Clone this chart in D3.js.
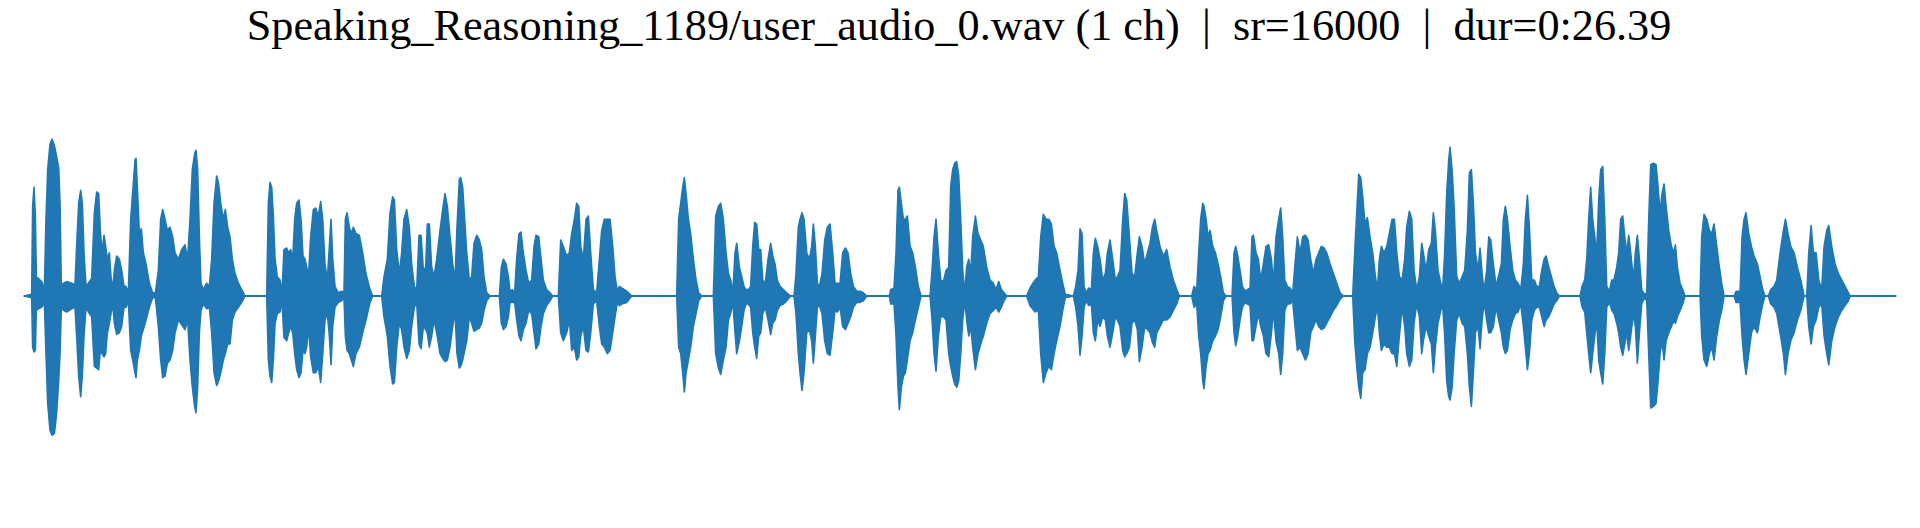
<!DOCTYPE html>
<html>
<head>
<meta charset="utf-8">
<script src="https://cdn.jsdelivr.net/npm/d3@7"></script>
<style>
  html, body { margin: 0; padding: 0; background: #ffffff; }
  svg { display: block; }
  .title { white-space: pre; }
</style>
</head>
<body>
<svg id="chart" width="1920" height="528"></svg>
<script>
// ---- data ----
const titleText = "Speaking_Reasoning_1189/user_audio_0.wav (1 ch)  |  sr=16000  |  dur=0:26.39";
const duration = 26.39; // seconds

// envelope vertices: time (s), upper peak, lower peak (normalised amplitude)
const timeSec = [
  0.000,0.108,0.122,0.141,0.160,0.174,0.202,0.249,0.287,0.310,0.334,0.367,0.395,0.428,0.461,0.489,0.508,0.526,
  0.555,0.602,0.672,0.719,0.742,0.771,0.799,0.822,0.846,0.874,0.907,0.954,
  0.992,1.024,1.053,1.076,1.100,1.128,1.151,1.175,1.203,1.226,1.250,1.274,1.306,1.344,1.377,1.410,1.438,1.471,
  1.504,1.541,1.565,1.579,1.598,1.626,1.654,1.682,1.720,1.767,1.814,1.852,
  1.894,1.927,1.955,1.988,2.021,2.058,2.096,2.129,2.176,2.223,2.270,2.307,
  2.340,2.373,2.406,2.425,2.448,2.472,2.495,2.528,2.575,2.613,2.646,
  2.679,2.716,2.744,2.773,2.810,2.838,2.871,2.904,2.937,2.975,3.022,3.069,3.116,3.421,
  3.445,3.468,3.492,3.515,3.539,3.571,3.609,3.637,3.665,3.703,3.731,3.759,3.788,
  3.816,3.844,3.877,3.905,3.933,3.961,3.985,4.013,4.041,4.079,4.112,4.149,
  4.182,4.211,4.243,4.276,4.305,4.328,4.352,4.384,4.431,4.478,4.511,
  4.530,4.554,4.586,4.615,4.643,4.680,4.727,4.774,4.821,4.878,4.915,5.042,
  5.075,5.122,5.160,5.197,5.221,5.254,5.291,5.324,5.357,5.395,5.432,5.465,5.503,5.536,
  5.569,5.597,5.630,5.663,5.686,5.714,5.747,5.780,5.818,
  5.865,5.902,5.935,5.968,6.006,6.043,6.076,
  6.104,6.137,6.156,6.184,6.212,6.241,6.278,6.311,6.344,6.382,6.419,6.452,6.485,6.523,6.570,
  6.701,6.729,6.758,6.795,6.828,6.851,6.884,6.917,
  6.945,6.978,7.006,7.039,7.077,7.115,7.157,7.190,7.218,7.256,7.289,7.321,7.368,7.415,7.453,
  7.533,7.566,7.603,7.650,7.688,7.721,7.759,7.791,7.820,7.848,7.885,7.923,7.956,7.989,8.026,8.073,
  8.111,8.144,8.181,8.224,8.261,8.299,8.332,8.365,8.393,8.426,8.496,8.567,
  9.201,9.229,9.258,9.286,9.309,9.333,9.366,9.398,9.436,9.474,9.511,9.553,
  9.718,9.751,9.789,9.821,9.859,9.897,9.930,9.962,9.991,
  10.024,10.047,10.085,10.118,10.150,10.179,10.212,10.244,
  10.273,10.301,10.329,10.357,10.385,10.414,10.451,
  10.489,10.526,10.555,10.587,10.620,10.658,10.705,10.752,10.808,10.855,
  10.883,10.916,10.940,10.968,10.996,11.034,11.071,11.104,11.128,11.156,11.184,11.212,
  11.250,11.288,11.325,11.363,11.400,11.433,11.466,11.504,
  11.541,11.579,11.617,11.654,11.692,11.739,11.786,11.833,11.880,
  12.199,12.218,12.265,12.293,12.321,12.340,12.368,12.397,12.425,12.453,12.491,12.528,12.566,12.608,12.646,
  12.773,12.801,12.829,12.857,12.890,12.923,12.961,12.998,13.036,
  13.064,13.092,13.120,13.148,13.177,13.205,13.233,13.261,
  13.289,13.318,13.346,13.374,13.412,13.449,13.487,13.524,13.571,13.618,13.665,13.703,13.741,13.778,13.816,13.853,
  14.135,14.182,14.253,14.300,14.333,14.370,14.408,14.445,14.483,14.521,14.558,14.605,14.643,14.680,
  14.793,14.826,14.859,14.887,14.915,14.944,14.972,15.010,15.047,
  15.075,15.103,15.136,15.169,15.207,15.244,15.273,15.310,15.348,15.385,15.414,15.451,
  15.489,15.517,15.545,15.583,15.620,15.658,15.695,15.724,15.761,15.799,15.837,
  15.874,15.907,15.940,15.968,16.015,16.062,16.109,16.156,16.203,16.250,16.288,
  16.461,16.494,16.532,16.560,16.588,16.617,16.635,16.664,16.692,16.720,16.758,16.795,16.833,16.870,16.908,16.945,
  17.030,17.058,17.082,17.110,17.143,17.176,17.214,17.246,17.284,
  17.312,17.331,17.368,17.401,17.434,17.472,17.509,17.547,17.585,17.613,
  17.650,17.688,17.716,17.744,17.773,17.810,17.848,17.885,
  17.918,17.951,17.989,18.026,18.064,18.102,18.139,18.177,18.214,18.252,18.289,18.327,18.365,18.412,18.459,18.506,18.553,18.600,
  18.731,18.759,18.788,18.816,18.844,18.872,18.905,18.938,18.976,19.013,19.051,19.079,
  19.107,19.135,19.173,19.211,19.248,19.286,19.319,19.352,19.389,19.427,
  19.464,19.492,19.530,19.563,19.596,19.633,
  19.671,19.704,19.727,19.765,19.803,19.840,19.868,19.896,19.934,19.972,20.000,
  20.028,20.056,20.085,20.103,20.132,20.160,20.197,20.235,20.273,20.310,
  20.348,20.376,20.404,20.432,20.461,20.498,20.526,20.555,20.583,
  20.620,20.649,20.677,20.714,20.752,20.790,
  20.827,20.855,20.883,20.912,20.949,20.987,21.024,21.062,21.100,
  21.137,21.165,21.194,21.222,21.255,21.292,21.325,21.363,21.396,21.429,21.457,21.495,21.532,21.570,21.607,21.645,
  21.936,21.964,22.002,22.030,22.058,22.086,22.114,22.143,22.171,
  22.199,22.227,22.256,22.284,22.312,22.350,
  22.383,22.415,22.453,22.481,22.509,22.538,22.566,22.594,22.622,22.650,22.688,22.716,22.744,22.773,22.805,22.843,22.876,
  22.904,22.932,22.970,23.008,23.036,23.064,23.092,23.120,23.149,23.186,23.224,23.261,23.280,23.308,23.346,23.383,23.416,
  23.628,23.651,23.684,23.722,23.759,23.792,23.825,23.863,23.900,23.933,23.966,
  24.107,24.135,24.192,24.220,24.248,24.276,24.314,24.352,24.389,24.436,24.474,24.511,24.544,
  24.591,24.624,24.671,24.709,24.756,24.803,24.831,24.868,24.906,24.953,25.000,25.047,25.094,
  25.132,25.160,25.193,25.226,25.263,25.301,25.343,
  25.376,25.414,25.442,25.484,25.531,25.578,25.625,25.672,25.719,25.743,26.390
];

const upperEnv = [
  0,0.01,0.56,0.68,0.50,0.12,0.11,0.09,0.04,0.48,0.79,0.95,0.98,0.94,0.87,0.80,0.58,0.06,
  0.08,0.09,0.08,0.07,0.31,0.58,0.66,0.58,0.27,0.06,0.08,0.11,
  0.52,0.65,0.64,0.41,0.27,0.38,0.31,0.23,0.27,0.12,0.04,0.16,0.25,0.23,0.16,0.06,0.06,0.02,
  0.48,0.70,0.85,0.86,0.68,0.39,0.42,0.27,0.20,0.08,0.02,0.02,
  0.16,0.48,0.54,0.48,0.41,0.43,0.37,0.27,0.23,0.29,0.32,0.23,
  0.48,0.79,0.89,0.91,0.79,0.37,0.08,0.04,0.08,0.06,0.23,
  0.58,0.75,0.70,0.58,0.48,0.54,0.43,0.37,0.23,0.14,0.08,0.04,0,0,
  0.58,0.71,0.68,0.50,0.23,0.12,0.10,0.02,0.29,0.30,0.27,0.29,0.23,
  0.48,0.58,0.60,0.48,0.25,0.23,0.18,0.14,0.37,0.54,0.55,0.50,
  0.59,0.48,0.20,0.10,0.31,0.48,0.23,0.06,0.02,0.03,0.02,
  0.48,0.52,0.43,0.39,0.43,0.39,0.38,0.27,0.14,0.04,0,0,
  0.12,0.23,0.52,0.62,0.60,0.29,0.14,0.27,0.48,0.54,0.43,0.20,0.06,0.04,
  0.38,0.38,0.16,0.18,0.45,0.45,0.18,0.12,0.23,
  0.41,0.54,0.64,0.56,0.37,0.20,0.10,
  0.43,0.73,0.74,0.68,0.48,0.27,0.10,0.12,0.33,0.38,0.35,0.29,0.12,0.02,0,
  0,0.18,0.23,0.20,0.12,0.03,0.04,0.02,
  0.23,0.39,0.40,0.27,0.16,0.08,0.10,0.31,0.38,0.37,0.23,0.10,0.04,0.02,0,
  0,0.35,0.31,0.25,0.27,0.39,0.48,0.58,0.56,0.31,0.23,0.48,0.50,0.27,0.04,0.02,
  0.23,0.41,0.48,0.48,0.48,0.31,0.12,0.03,0.06,0.05,0.03,0,
  0,0.48,0.58,0.68,0.74,0.64,0.48,0.39,0.23,0.10,0.02,0,
  0,0.50,0.56,0.58,0.48,0.27,0.14,0.10,0.02,
  0.27,0.33,0.18,0.12,0.06,0.04,0.04,0.06,
  0.31,0.46,0.45,0.29,0.29,0.10,0.08,
  0.23,0.33,0.25,0.20,0.10,0.06,0.04,0.02,0,0,
  0.14,0.43,0.48,0.52,0.48,0.27,0.23,0.31,0.45,0.31,0.08,0.06,
  0.14,0.35,0.43,0.45,0.27,0.08,0.08,0.08,
  0.27,0.30,0.27,0.14,0.06,0.03,0.03,0.02,0,
  0,0.04,0.05,0.27,0.66,0.68,0.58,0.48,0.48,0.50,0.31,0.27,0.18,0.06,0,
  0,0.16,0.37,0.48,0.27,0.10,0.09,0.16,0.18,
  0.68,0.79,0.83,0.84,0.75,0.48,0.16,0.02,
  0.18,0.23,0.14,0.37,0.50,0.39,0.35,0.31,0.18,0.10,0.08,0.04,0.09,0.04,0.02,0,
  0,0.05,0.10,0.12,0.37,0.51,0.48,0.48,0.45,0.31,0.27,0.16,0.08,0.01,
  0,0.06,0.16,0.42,0.39,0.06,0.02,0.05,0.04,
  0.27,0.36,0.31,0.23,0.10,0.14,0.27,0.35,0.23,0.10,0.12,0.16,
  0.48,0.64,0.60,0.37,0.14,0.12,0.27,0.37,0.31,0.20,0.27,
  0.33,0.43,0.48,0.41,0.31,0.25,0.29,0.18,0.10,0.04,0,
  0,0.06,0.04,0.27,0.48,0.58,0.56,0.48,0.37,0.41,0.31,0.27,0.20,0.12,0.02,0,
  0,0.27,0.31,0.25,0.16,0.06,0.03,0.04,0.05,
  0.37,0.38,0.27,0.23,0.10,0.20,0.31,0.32,0.23,0.08,
  0.37,0.48,0.55,0.37,0.10,0.06,0.05,0.02,
  0.20,0.37,0.27,0.37,0.38,0.35,0.23,0.14,0.23,0.27,0.31,0.30,0.27,0.20,0.14,0.08,0.02,0,
  0,0.27,0.52,0.76,0.74,0.62,0.45,0.49,0.37,0.27,0.12,0.04,
  0.23,0.31,0.27,0.31,0.39,0.48,0.48,0.27,0.12,0.10,
  0.23,0.43,0.53,0.48,0.16,0.04,
  0.12,0.33,0.27,0.16,0.29,0.33,0.52,0.41,0.16,0.08,0.05,
  0.27,0.64,0.85,0.93,0.79,0.56,0.12,0.08,0.12,0.16,
  0.41,0.77,0.79,0.58,0.27,0.16,0.30,0.14,0.03,
  0.16,0.37,0.35,0.20,0.06,0.13,
  0.20,0.48,0.56,0.48,0.31,0.16,0.10,0.08,0.04,
  0.20,0.48,0.63,0.43,0.10,0.10,0.06,0.06,0.16,0.23,0.25,0.18,0.12,0.06,0.02,0,
  0,0.06,0.10,0.23,0.48,0.68,0.48,0.37,0.27,
  0.60,0.79,0.81,0.48,0.06,0.03,
  0.10,0.10,0.18,0.27,0.48,0.50,0.37,0.27,0.38,0.27,0.10,0.27,0.38,0.23,0.04,0.01,0.02,
  0.48,0.82,0.83,0.82,0.68,0.52,0.64,0.70,0.56,0.41,0.31,0.27,0.32,0.18,0.08,0.04,0,
  0,0.37,0.51,0.48,0.41,0.39,0.45,0.31,0.18,0.08,0,
  0,0.03,0.03,0.37,0.48,0.52,0.39,0.31,0.25,0.20,0.12,0.04,0,
  0,0.04,0.06,0.10,0.27,0.41,0.48,0.39,0.31,0.27,0.18,0.10,0,
  0,0.27,0.44,0.27,0.27,0.10,0.04,
  0.31,0.41,0.44,0.31,0.20,0.14,0.10,0.06,0.02,0,0
];

const lowerEnv = [
  0,-0.01,-0.32,-0.35,-0.34,-0.09,-0.08,-0.07,-0.04,-0.36,-0.67,-0.84,-0.87,-0.86,-0.73,-0.53,-0.36,-0.07,
  -0.09,-0.10,-0.08,-0.07,-0.25,-0.50,-0.63,-0.50,-0.25,-0.07,-0.10,-0.13,
  -0.44,-0.45,-0.46,-0.34,-0.36,-0.38,-0.36,-0.23,-0.17,-0.11,-0.05,-0.17,-0.24,-0.23,-0.19,-0.07,-0.07,-0.03,
  -0.34,-0.42,-0.48,-0.51,-0.40,-0.34,-0.25,-0.21,-0.15,-0.07,-0.01,-0.01,
  -0.19,-0.40,-0.51,-0.50,-0.42,-0.40,-0.34,-0.23,-0.15,-0.18,-0.21,-0.15,
  -0.40,-0.57,-0.69,-0.73,-0.57,-0.23,-0.09,-0.05,-0.08,-0.07,-0.23,
  -0.48,-0.56,-0.53,-0.48,-0.40,-0.36,-0.30,-0.30,-0.15,-0.10,-0.07,-0.04,0,0,
  -0.40,-0.50,-0.54,-0.40,-0.17,-0.11,-0.10,-0.03,-0.26,-0.28,-0.23,-0.19,-0.23,
  -0.36,-0.46,-0.51,-0.48,-0.34,-0.36,-0.32,-0.19,-0.38,-0.48,-0.48,-0.44,
  -0.54,-0.36,-0.15,-0.11,-0.25,-0.43,-0.19,-0.07,-0.04,-0.03,-0.01,
  -0.25,-0.34,-0.36,-0.40,-0.44,-0.36,-0.32,-0.23,-0.15,-0.04,0,0,
  -0.13,-0.25,-0.44,-0.55,-0.54,-0.32,-0.17,-0.21,-0.32,-0.39,-0.34,-0.19,-0.07,-0.04,
  -0.30,-0.33,-0.19,-0.21,-0.23,-0.32,-0.25,-0.15,-0.23,
  -0.36,-0.39,-0.41,-0.40,-0.32,-0.19,-0.10,
  -0.36,-0.45,-0.44,-0.40,-0.34,-0.28,-0.13,-0.17,-0.22,-0.21,-0.20,-0.17,-0.09,-0.03,0,
  0,-0.17,-0.21,-0.19,-0.13,-0.04,-0.04,-0.04,
  -0.15,-0.25,-0.28,-0.21,-0.17,-0.09,-0.11,-0.23,-0.33,-0.30,-0.19,-0.11,-0.06,-0.03,0,
  0,-0.23,-0.28,-0.23,-0.15,-0.34,-0.32,-0.40,-0.38,-0.25,-0.19,-0.34,-0.35,-0.23,-0.05,-0.03,
  -0.19,-0.30,-0.32,-0.36,-0.34,-0.23,-0.13,-0.04,-0.06,-0.05,-0.04,0,
  0,-0.32,-0.36,-0.48,-0.60,-0.48,-0.40,-0.32,-0.19,-0.11,-0.03,0,
  0,-0.36,-0.45,-0.49,-0.40,-0.32,-0.15,-0.11,-0.03,
  -0.23,-0.36,-0.28,-0.19,-0.09,-0.05,-0.05,-0.07,
  -0.23,-0.32,-0.39,-0.25,-0.23,-0.11,-0.07,
  -0.15,-0.24,-0.17,-0.15,-0.09,-0.06,-0.05,-0.03,0,0,
  -0.11,-0.36,-0.48,-0.59,-0.48,-0.23,-0.21,-0.28,-0.42,-0.25,-0.07,-0.06,
  -0.11,-0.28,-0.36,-0.37,-0.23,-0.09,-0.10,-0.07,
  -0.19,-0.21,-0.17,-0.13,-0.07,-0.04,-0.04,-0.03,0,
  0,-0.05,-0.05,-0.25,-0.57,-0.71,-0.57,-0.50,-0.48,-0.40,-0.28,-0.23,-0.15,-0.07,0,
  0,-0.15,-0.36,-0.47,-0.25,-0.13,-0.13,-0.15,-0.36,
  -0.44,-0.50,-0.55,-0.57,-0.53,-0.36,-0.15,-0.03,
  -0.15,-0.25,-0.19,-0.32,-0.46,-0.36,-0.30,-0.25,-0.17,-0.11,-0.09,-0.07,-0.10,-0.07,-0.03,0,
  0,-0.06,-0.10,-0.09,-0.36,-0.54,-0.48,-0.44,-0.46,-0.36,-0.28,-0.19,-0.09,-0.01,
  0,-0.07,-0.19,-0.37,-0.25,-0.07,-0.03,-0.06,-0.05,
  -0.23,-0.28,-0.15,-0.19,-0.13,-0.15,-0.25,-0.32,-0.23,-0.13,-0.15,-0.19,
  -0.34,-0.38,-0.36,-0.32,-0.17,-0.15,-0.21,-0.41,-0.32,-0.19,-0.21,
  -0.23,-0.29,-0.32,-0.23,-0.19,-0.15,-0.15,-0.13,-0.09,-0.05,0,
  0,-0.07,-0.05,-0.25,-0.36,-0.53,-0.58,-0.44,-0.36,-0.34,-0.28,-0.25,-0.21,-0.13,-0.03,0,
  0,-0.23,-0.31,-0.25,-0.15,-0.07,-0.04,-0.05,-0.06,
  -0.28,-0.28,-0.19,-0.11,-0.19,-0.25,-0.36,-0.38,-0.23,-0.09,
  -0.28,-0.36,-0.49,-0.36,-0.09,-0.05,-0.05,-0.03,
  -0.19,-0.34,-0.32,-0.36,-0.40,-0.36,-0.23,-0.19,-0.15,-0.19,-0.21,-0.20,-0.17,-0.13,-0.09,-0.06,-0.02,0,
  0,-0.28,-0.44,-0.57,-0.64,-0.48,-0.46,-0.36,-0.32,-0.23,-0.13,-0.06,
  -0.23,-0.34,-0.30,-0.32,-0.32,-0.36,-0.36,-0.44,-0.25,-0.07,
  -0.19,-0.36,-0.44,-0.40,-0.17,-0.05,
  -0.13,-0.36,-0.28,-0.19,-0.25,-0.30,-0.48,-0.32,-0.17,-0.09,-0.06,
  -0.25,-0.53,-0.63,-0.65,-0.57,-0.36,-0.15,-0.11,-0.17,-0.19,
  -0.36,-0.57,-0.69,-0.48,-0.23,-0.19,-0.33,-0.15,-0.04,
  -0.15,-0.23,-0.23,-0.19,-0.07,-0.15,
  -0.23,-0.32,-0.36,-0.34,-0.21,-0.15,-0.11,-0.10,-0.05,
  -0.19,-0.32,-0.46,-0.36,-0.15,-0.09,-0.07,-0.07,-0.13,-0.19,-0.15,-0.13,-0.09,-0.05,-0.03,0,
  0,-0.07,-0.10,-0.23,-0.36,-0.48,-0.36,-0.25,-0.15,
  -0.40,-0.48,-0.55,-0.36,-0.07,-0.04,
  -0.09,-0.11,-0.17,-0.23,-0.32,-0.37,-0.30,-0.23,-0.34,-0.25,-0.11,-0.19,-0.42,-0.23,-0.05,-0.01,-0.03,
  -0.36,-0.70,-0.69,-0.67,-0.53,-0.36,-0.28,-0.40,-0.28,-0.23,-0.19,-0.15,-0.17,-0.13,-0.09,-0.05,0,
  0,-0.25,-0.40,-0.44,-0.36,-0.32,-0.40,-0.25,-0.15,-0.09,0,
  0,-0.04,-0.04,-0.25,-0.40,-0.49,-0.36,-0.23,-0.19,-0.23,-0.13,-0.05,0,
  0,-0.05,-0.07,-0.11,-0.23,-0.36,-0.49,-0.36,-0.28,-0.23,-0.15,-0.09,0,
  0,-0.19,-0.30,-0.19,-0.15,-0.07,-0.05,
  -0.25,-0.36,-0.43,-0.28,-0.19,-0.13,-0.09,-0.06,-0.03,0,0
];

// ---- drawing ----
const svg = d3.select("#chart");
const color = "#1f77b4";

const x = d3.scaleLinear().domain([0, duration]).range([24, 1896]);
const y = d3.scaleLinear().domain([-1, 1]).range([456, 136]);

const n = Math.min(timeSec.length, upperEnv.length, lowerEnv.length);
const pts = d3.range(n).map(i => ({ t: timeSec[i], hi: upperEnv[i], lo: lowerEnv[i] }));

const area = d3.area()
  .x(d => x(d.t))
  .y0(d => y(d.lo))
  .y1(d => y(d.hi))
  .curve(d3.curveLinear);

svg.append("path")
  .datum(pts)
  .attr("d", area)
  .attr("fill", color)
  .attr("stroke", color)
  .attr("stroke-width", 1.6)
  .attr("stroke-linejoin", "round");

// zero line (silent stretches)
svg.append("path")
  .datum([0, duration])
  .attr("d", d3.line().x(d => x(d)).y(() => y(0)))
  .attr("stroke", color)
  .attr("stroke-width", 1.8)
  .attr("fill", "none");

// title
const title = svg.append("text")
  .attr("class", "title")
  .attr("text-anchor", "middle")
  .attr("font-family", "Liberation Serif, Times New Roman, serif")
  .attr("font-size", 44)
  .attr("fill", "#000")
  .text(titleText);
const targetWidth = 1425;
const len = title.node().getComputedTextLength();
const sx = len > 0 ? targetWidth / len : 1;
title.attr("transform", `translate(959,40) scale(${sx},1)`);
</script>
</body>
</html>
